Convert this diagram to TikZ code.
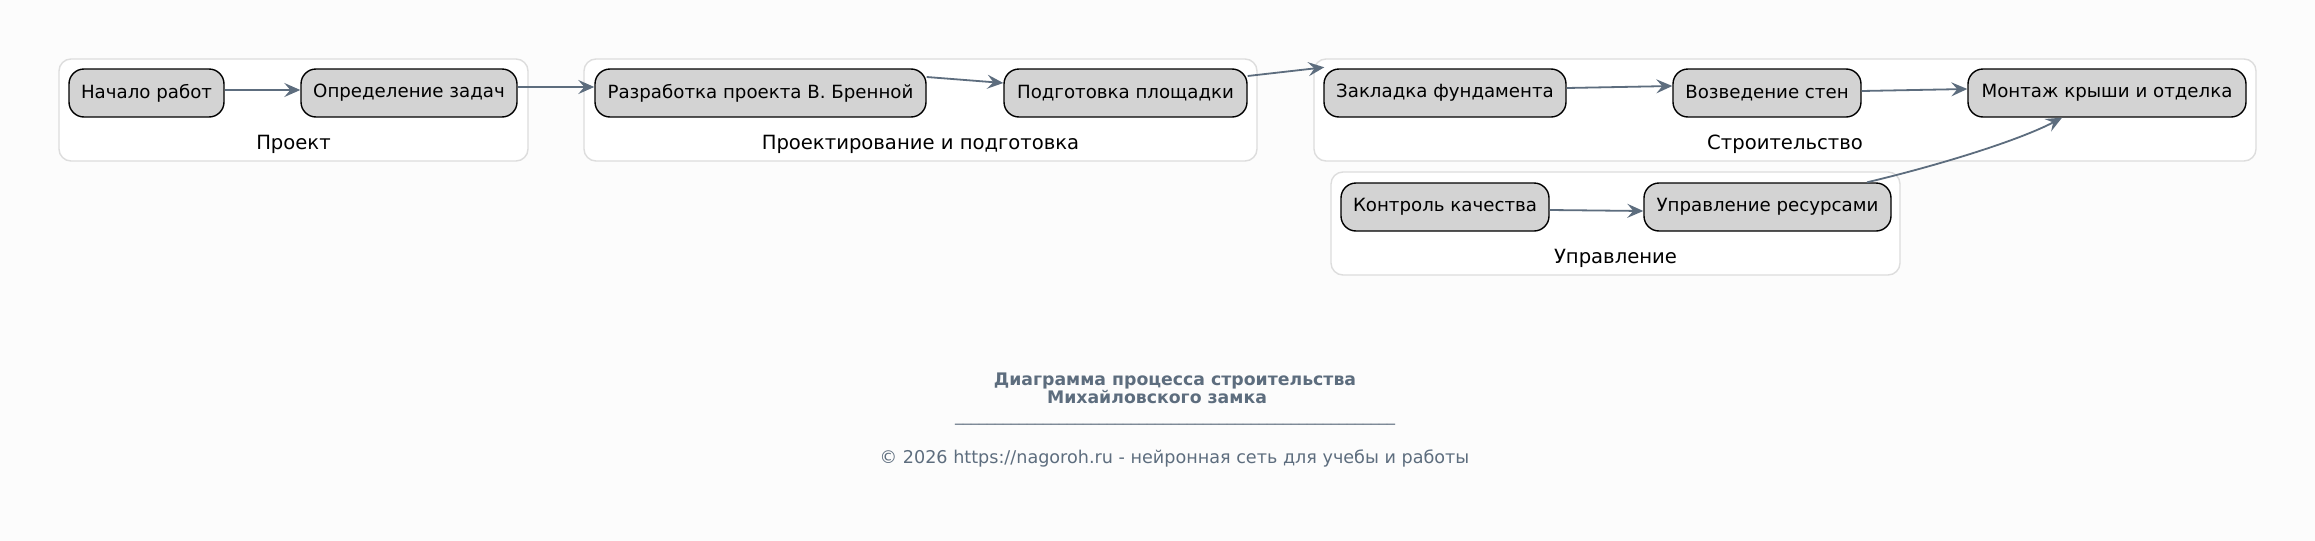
\documentclass[tikz,border=0pt]{standalone}
\usepackage{fontspec}
\setmainfont{DejaVu Sans}
\usetikzlibrary{arrows.meta}
\definecolor{bgc}{HTML}{FCFCFC}
\definecolor{edgec}{HTML}{5D6D7E}
\definecolor{nodefill}{HTML}{D3D3D3}
\definecolor{clusterc}{HTML}{DDDDDD}
\definecolor{titlec}{HTML}{5D6D7E}
\tikzset{
  nd/.style={draw=black, line width=0.7pt, fill=nodefill, rounded corners=7.5pt,
    minimum height=24pt, inner sep=0pt, font=\fontsize{9.1}{11}\selectfont, text=black},
  cluster/.style={draw=clusterc, line width=0.7pt, fill=white, rounded corners=6pt},
  clab/.style={font=\fontsize{9.8}{12}\selectfont, anchor=base, inner sep=0pt, text=black},
  edge/.style={draw=edgec, line width=0.9pt, -{Stealth[length=8pt,width=7pt,inset=3pt]}},
  foot/.style={anchor=base, inner sep=0pt, text=titlec}
}
\begin{document}
\begin{tikzpicture}[x=0.5pt,y=-0.5pt]
\useasboundingbox (0,0) rectangle (2315,541);
\fill[bgc] (0,0) rectangle (2315,541);

% clusters
\draw[cluster] (59,59) rectangle (528,161);
\node[clab] (l1) at (293.5,149) {Проект};
\draw[cluster] (584,59) rectangle (1257,161);
\node[clab] (l2) at (920.5,149) {Проектирование и подготовка};
\draw[cluster] (1314,59) rectangle (2256,161);
\node[clab] (l3) at (1785,149) {Строительство};
\draw[cluster] (1331,172) rectangle (1900,275);
\node[clab] (l4) at (1615.5,263) {Управление};

% nodes
\node[nd, minimum width=77.5pt] (n1) at (146.5,93) {Начало работ};
\node[nd, minimum width=108pt] (n2) at (409,93) {Определение задач};
\node[nd, minimum width=165.5pt] (n3) at (760.5,93) {Разработка проекта В. Бренной};
\node[nd, minimum width=121.5pt] (n4) at (1125.5,93) {Подготовка площадки};
\node[nd, minimum width=121pt] (n5) at (1445,93) {Закладка фундамента};
\node[nd, minimum width=94pt] (n6) at (1767,93) {Возведение стен};
\node[nd, minimum width=139pt] (n7) at (2107,93) {Монтаж крыши и отделка};
\node[nd, minimum width=104pt] (n8) at (1445,207) {Контроль качества};
\node[nd, minimum width=123.5pt] (n9) at (1767.5,207) {Управление ресурсами};

% edges
\draw[edge] ([yshift=1.5pt]n1.east) -- ([yshift=1.5pt]n2.west);
\draw[edge] ([yshift=3pt]n2.east) -- ([yshift=3pt]n3.west);
\draw[edge] ([yshift=8pt]n3.east) -- ([yshift=5pt]n4.west);
\draw[edge] ([yshift=8.5pt]n4.east) -- ([xshift=0.5pt,yshift=0.5pt]n5.north west);
\draw[edge] ([yshift=2.5pt]n5.east) -- ([yshift=3.5pt]n6.west);
\draw[edge] ([yshift=1pt]n6.east) -- ([yshift=2pt]n7.west);
\draw[edge] ([yshift=-1.5pt]n8.east) -- ([yshift=-2pt]n9.west);
\draw[edge] ([xshift=49.75pt]n9.north) .. controls (1940,165) and (2020,140) .. ([xshift=-22.5pt]n7.south);

% footer
\node[foot, font=\fontsize{8.65}{10}\bfseries] (t1) at (1175,385) {Диаграмма процесса строительства};
\node[foot, font=\fontsize{8.65}{10}\bfseries] (t2) at (1157,403) {Михайловского замка};
\node[foot, font=\fontsize{8}{10}\selectfont] (t3) at (1175,421) {\_\_\_\_\_\_\_\_\_\_\_\_\_\_\_\_\_\_\_\_\_\_\_\_\_\_\_\_\_\_\_\_\_\_\_\_\_\_\_\_\_\_\_\_\_\_\_\_\_\_\_\_\_\_\_};
\node[foot, font=\fontsize{8.8}{10}\selectfont] (t4) at (1174.5,463) {© 2026 https://nagoroh.ru - нейронная сеть для учебы и работы};
\end{tikzpicture}
\end{document}
